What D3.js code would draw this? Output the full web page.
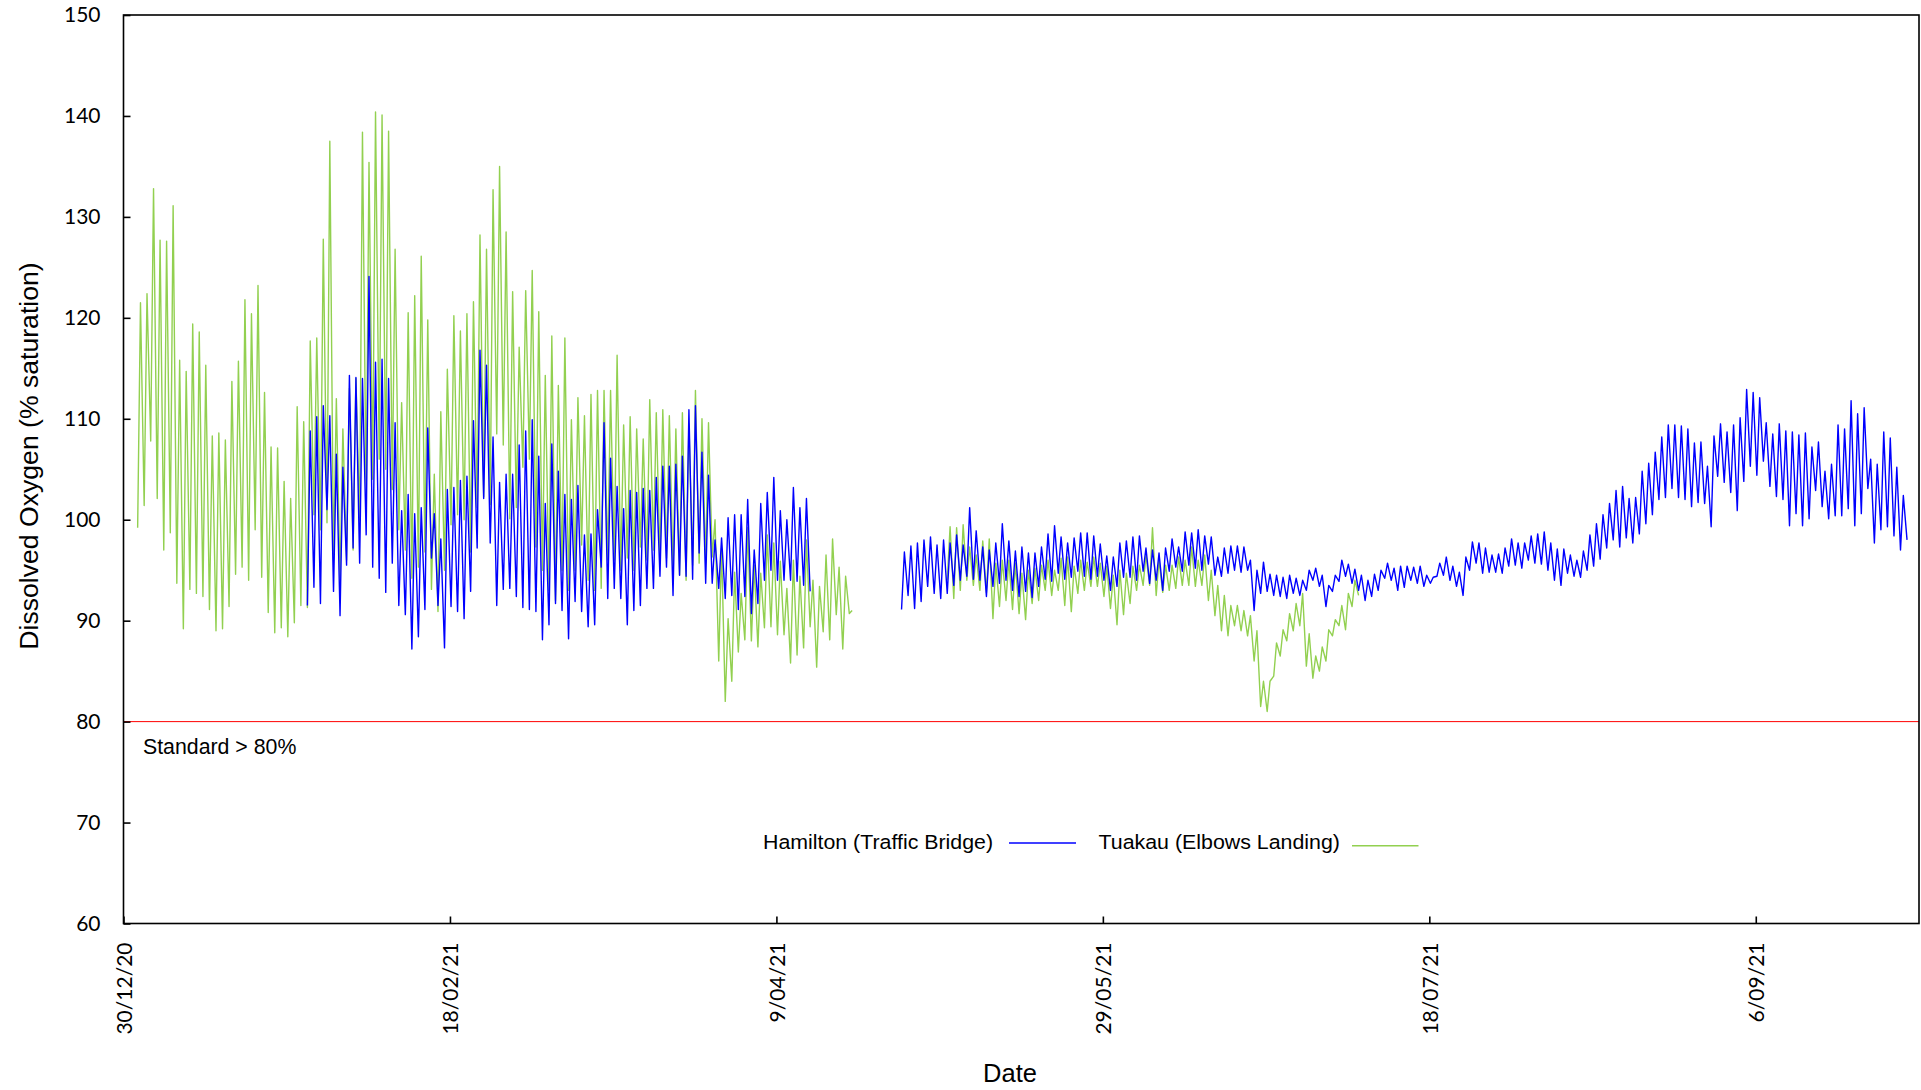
<!DOCTYPE html>
<html><head><meta charset="utf-8">
<script src="https://cdn.jsdelivr.net/npm/d3@7"></script>
<style>
html,body{margin:0;padding:0;background:#fff;}
svg{display:block;}
</style></head>
<body>
<svg id="chart" width="1921" height="1090"></svg>
<script>
// ---------- DATA ----------
const originDate = "2020-12-30";            // day 0 of the series
const axisEndDate = "2021-10-01";
const yTicks = [60,70,80,90,100,110,120,130,140,150];
const xTickDates = ["2020-12-30","2021-02-18","2021-04-09","2021-05-29","2021-07-18","2021-09-06"];
const xTickLabels = ["30/12/20","18/02/21","9/04/21","29/05/21","18/07/21","6/09/21"];
const standardValue = 80;
const standardLabel = "Standard > 80%";
const seriesNames = ["Hamilton (Traffic Bridge)", "Tuakau (Elbows Landing)"];
const troughHour = 4;    // typical hour of daily minimum
const peakHour = 14.4;   // typical hour of daily maximum

// Tuakau (Elbows Landing): daily minima / maxima, first block starts day 2
const tuakauStart1 = 2;
const tuakauMin1 = [99.2,101.4,107.8,102.1,97.0,98.7,93.7,89.2,93.1,92.7,
92.4,91.1,89.0,89.2,91.4,94.6,95.3,94.0,99.0,94.3,
90.8,88.8,89.3,88.4,89.8,91.5,91.3,100.5,99.0,99.7,
96,94,96,97,100,102,104,106,105,103,
99,97,94.2,95.3,96.8,93.1,90.9,95,99.5,100.5,
100,96.8,101.2,102.3,101.5,108.5,107.4,100.1,101.2,105.2,
106,97.3,95,93,92,95,93,95,97.5,94,
93,93.2,96,96,95,96.2,95,97.3,96,97,
96,96.2,95,94.5,94,95.5,95.7,95.7,96.3,86,
82,84,86.9,88.1,88.0,87.4,89.3,89.4,88.6,88.6,
85.8,86.6,87.3,89.4,85.4,88.9,88.1,90.6,87.2,90.7];
const tuakauMax1 = [121.5,122.4,132.8,127.7,127.6,131.1,115.8,114.7,119.4,118.6,
115.3,108.3,108.6,107.9,113.7,115.7,121.8,120.4,123.2,112.6,
107.2,107.1,103.8,102.1,111.2,109.7,117.7,118.0,127.8,137.5,
112,109,113,114,138.4,135.4,140.4,140.1,138.5,126.8,
111.6,120.5,122.2,126.1,119.8,104.5,110.7,114.9,120.2,118.7,
120.4,121.6,128.2,126.8,132.7,135.0,128.5,122.6,117.1,122.7,
124.7,120.6,114.3,118.2,113.3,118.0,109.9,112.1,110.3,112.4,
112.8,112.8,112.8,116.3,109.4,110.2,109.0,108.0,111.9,110.6,
110.9,110.3,109.0,110.6,109.5,112.8,110.0,109.6,100.0,97.2,
90.2,94.8,92.7,99.2,95.5,94.7,98.5,97.7,95.9,93.2,
96.0,94.4,98.0,94.0,93.4,96.5,98.1,95.3,94.4,91.0];
const tuakauStart2 = 126;
const tuakauMin2 = [94,92.2,93.0,94.0,93.5,93.0,92.8,90.2,91.4,92.0,
91.1,90.7,90.1,91.7,92.0,93.0,92.5,93.0,91.5,90.9,
92.7,93.0,93.4,93.4,92.4,91.2,89.6,90.6,91.7,93,
93.5,93.5,92.5,92.8,93,93.2,93.5,93.5,93.4,93.5,
92,90.5,89,88.5,89.5,89,88.5,86,81.5,81,
84.5,86.5,88,89,89.5,85.5,84.3,85,86,88.5,
89.5,89.1,91.4,92.5];
const tuakauMax2 = [99.3,99.2,99.5,97.3,96.5,97.9,98.1,95.7,96.0,96.0,
95.7,94.7,95.0,95.2,95.5,96.0,95.0,96.2,96.3,95.4,
96.0,95.8,96.3,95.7,95.4,94.5,95.0,94.7,95.4,95.5,
96.5,99.2,96,95.5,95.5,96.3,96,97.3,96,96.5,
95,93.5,92.5,91.5,91.5,91,90.5,89,84,84,
87.8,89.1,90.7,91.7,92.7,88.7,86.5,87.4,89.1,90.1,
91.5,92.7,94.0];

// Hamilton (Traffic Bridge): daily minima / maxima
const hamiltonStart1 = 28;
const hamiltonMin1 = [91.5,93.3,91.7,101.0,92.9,90.5,95.5,97.2,95.7,98.5,
95.3,94.2,92.8,95.7,91.5,90.6,87.2,88.4,91.1,96.2,
91.5,87.3,91.4,90.9,90.2,92.9,97.2,102.1,97.7,91.5,
93.1,93.2,92.4,91.3,91.1,90.9,88.1,89.6,91.7,91.0,
88.2,91.9,90.9,89.4,89.6,95.3,92.2,93.2,92.2,89.6,
91.0,91.5,93.2,93.2,94.4,95.3,92.5,94.5,94.4,94.1,
96.7,93.7,93.7,93.2,92.2,92.5,91.1,92.4,90.7,91.7,
94.0,95.0,94.0,94.0,94.0,93.9,93.5,92.9];
const hamiltonMax1 = [108.8,110.2,111.3,110.3,106.5,105.2,114.3,114.1,114.0,124.1,
115.6,115.9,114.0,109.6,100.9,102.5,100.6,101.2,109.1,100.6,
98.1,103.0,103.2,103.9,104.3,109.8,116.8,115.3,108.2,103.7,
104.5,104.5,107.4,108.8,109.9,106.3,101.6,107.5,104.8,102.5,
102.0,103.4,98.5,98.6,101.0,109.6,106.1,103.3,101.1,102.9,
102.7,103.1,102.9,104.2,105.3,105.3,105.5,106.3,110.9,111.3,
106.7,104.4,98.0,98.2,100.2,100.5,100.5,102.0,97.0,101.6,
102.7,104.2,100.9,100.0,103.2,101.2,102.1];
const hamiltonStart2 = 119;
const hamiltonMin2 = [91.1,92.5,91.2,91.9,93.4,92.7,92.2,92.7,93.5,94.0,
94.4,94.1,94.0,92.4,93.4,93.7,94.0,93.0,92.4,92.9,
92.3,93.4,94.1,93.9,94.7,94.1,94.3,94.9,94.4,94.1,
94.4,94.0,93.0,93.4,94.3,94.3,94.0,94.9,93.7,94.0,
93.0,94.9,95.3,94.9,95.5,95.2,95.0,95.6,94.5,94.4,
94.7,95.0,94.8,95.0,91.0,92.7,92.9,92.5,92.4,92.2,
92.7,92.5,93.0,94.0,93.4,91.4,92.9,93.9,94.4,93.7,
93.0,92.0,92.4,93.0,94.2,94.0,93.0,93.3,94.0,93.7,
93.4,93.7,94.4,94.5,94.0,93.4,92.5,95.0,95.7,94.7,
94.8,94.8,94.7,95.4,95.5,95.2,96.0,95.7,95.6,95.0,
94.0,93.5,94.7,94.4,94.3,95.0,95.4,96.1,97.2,98.0,
97.3,98.2,97.7,98.6,99.6,100.5,102.0,102.2,103.1,102.2,
102.0,101.3,101.7,101.6,99.3,104.3,103.7,102.7,100.9,103.8,
105.3,104.4,105.8,103.3,102.3,102.0,99.4,100.6,99.4,100.1,
102.9,101.3,100.1,100.4,100.4,101.1,99.4,100.6,103.1,97.7,
99.0,99.3,98.4,97.0,98];
const hamiltonMax2 = [96.8,97.4,97.7,98.0,98.3,97.5,98.0,97.7,98.5,97.5,
101.2,98.9,97.3,97.0,97.7,99.6,97.9,96.9,97.3,96.7,
96.7,97.3,98.6,99.4,98.3,97.7,98.2,98.7,98.7,98.4,
97.6,96.4,96.3,97.7,97.9,98.3,98.4,97.2,97.0,96.7,
97.2,98.1,97.3,98.8,98.7,99.0,98.4,98.3,96.3,97.2,
97.4,97.4,97.3,96.0,95.0,95.8,94.6,94.5,94.3,94.5,
94.2,94.0,95.0,95.2,94.5,93.5,94.5,96.0,95.6,95.1,
94.5,94.0,94.6,95.0,95.7,95.2,95.4,95.4,95.3,95.4,
94.5,94.3,95.7,96.3,95.4,94.8,96.3,97.8,97.7,97.2,
96.5,96.6,97.2,98.1,97.7,97.7,98.4,98.6,98.8,97.7,
97.1,97.1,96.5,96.0,96.9,98.5,99.6,100.5,101.6,102.9,
103.3,102.1,102.2,104.8,105.6,106.7,108.2,109.4,109.4,109.3,
109.0,107.6,107.7,105.3,108.3,109.5,108.7,109.4,110.1,112.9,
112.6,112.1,109.6,108.5,109.5,108.8,108.7,108.4,108.6,107.2,
107.7,104.8,105.5,109.4,109.0,111.8,110.5,111.1,106.0,105.5,
108.7,108.1,105.2,102.4];

// ---------- CHART ----------
const svg = d3.select("#chart");
const M = {left: 123.5, right: 1919, top: 15, bottom: 923.5};
const DAY = 864e5;
const origin = new Date(originDate + "T00:00:00Z");

const x = d3.scaleUtc()
  .domain([origin, new Date(axisEndDate + "T00:00:00Z")])
  .range([M.left, M.right]);
const y = d3.scaleLinear().domain([60,150]).range([M.bottom, M.top]);

function buildPoints(startDay, mins, maxs) {
  const pts = [];
  mins.forEach((v, i) => {
    pts.push({t: new Date(origin.getTime() + (startDay + i + troughHour/24) * DAY), v});
    if (i < maxs.length)
      pts.push({t: new Date(origin.getTime() + (startDay + i + peakHour/24) * DAY), v: maxs[i]});
  });
  return pts;
}

const line = d3.line().x(d => x(d.t)).y(d => y(d.v));

const tuakauSegs = [buildPoints(tuakauStart1, tuakauMin1, tuakauMax1),
                    buildPoints(tuakauStart2, tuakauMin2, tuakauMax2)];
const hamiltonSegs = [buildPoints(hamiltonStart1, hamiltonMin1, hamiltonMax1),
                      buildPoints(hamiltonStart2, hamiltonMin2, hamiltonMax2)];

const GREEN = "#92d050", BLUE = "#0000ff";
const SANS = "Liberation Sans, Arial, sans-serif";

// standard line
svg.append("line")
  .attr("x1", M.left).attr("x2", M.right)
  .attr("y1", y(standardValue)).attr("y2", y(standardValue))
  .attr("stroke", "#ff0000").attr("stroke-width", 1);

svg.append("text")
  .attr("x", 143).attr("y", 753.5)
  .attr("font-family", SANS)
  .attr("font-size", 21.3).attr("fill", "#000")
  .text(standardLabel);

// series
svg.append("g").selectAll("path").data(tuakauSegs).join("path")
  .attr("d", line).attr("fill", "none")
  .attr("stroke", GREEN).attr("stroke-width", 1.4).attr("stroke-linejoin", "round");
svg.append("g").selectAll("path").data(hamiltonSegs).join("path")
  .attr("d", line).attr("fill", "none")
  .attr("stroke", BLUE).attr("stroke-width", 1.4).attr("stroke-linejoin", "round");

// frame
svg.append("rect")
  .attr("x", M.left).attr("y", M.top)
  .attr("width", M.right - M.left).attr("height", M.bottom - M.top)
  .attr("fill", "none").attr("stroke", "#000").attr("stroke-width", 1.6);

// axes
const yAxis = d3.axisLeft(y).tickValues(yTicks).tickSize(-7).tickPadding(23).tickFormat(d3.format("d"));
const gy = svg.append("g").attr("transform", `translate(${M.left},0)`).call(yAxis);
gy.select(".domain").remove();
gy.selectAll(".tick line").attr("stroke", "#000").attr("stroke-width", 1.6);
gy.selectAll(".tick text")
  .attr("font-family", "Lato, Carlito, Calibri, sans-serif")
  .attr("font-size", 21).attr("fill", "#000");

const xTickVals = xTickDates.map(s => new Date(s + "T00:00:00Z"));
const xAxis = d3.axisBottom(x).tickValues(xTickVals).tickSize(-7)
  .tickFormat((d, i) => xTickLabels[i]);
const gx = svg.append("g").attr("transform", `translate(0,${M.bottom})`).call(xAxis);
gx.select(".domain").remove();
gx.selectAll(".tick line").attr("stroke", "#000").attr("stroke-width", 1.6);
gx.selectAll(".tick text")
  .attr("font-family", "Lato, Carlito, Calibri, sans-serif")
  .attr("font-size", 21).attr("fill", "#000")
  .attr("text-anchor", "end")
  .attr("dy", null)
  .attr("y", 0)
  .attr("transform", "translate(8,19) rotate(-90)");

// axis titles
svg.append("text")
  .attr("transform", "translate(38,456) rotate(-90)")
  .attr("text-anchor", "middle")
  .attr("font-family", SANS)
  .attr("font-size", 26.6).attr("fill", "#000")
  .text("Dissolved Oxygen (% saturation)");

svg.append("text")
  .attr("x", 1010).attr("y", 1082)
  .attr("text-anchor", "middle")
  .attr("font-family", SANS)
  .attr("font-size", 25.5).attr("fill", "#000")
  .text("Date");

// legend
const legend = svg.append("g").attr("font-family", SANS).attr("font-size", 20.5);
const legendItems = [
  {name: seriesNames[0], color: BLUE, tx: 763, tw: 230, lx1: 1009, lx2: 1076, ly: 843},
  {name: seriesNames[1], color: GREEN, tx: 1098.5, tw: 241.5, lx1: 1352, lx2: 1418.5, ly: 845.7}
];
legendItems.forEach(it => {
  legend.append("text").attr("x", it.tx).attr("y", 849)
    .attr("textLength", it.tw).attr("lengthAdjust", "spacingAndGlyphs")
    .attr("fill", "#000").text(it.name);
  legend.append("line").attr("x1", it.lx1).attr("x2", it.lx2)
    .attr("y1", it.ly).attr("y2", it.ly)
    .attr("stroke", it.color).attr("stroke-width", 1.6);
});
</script>
</body></html>
